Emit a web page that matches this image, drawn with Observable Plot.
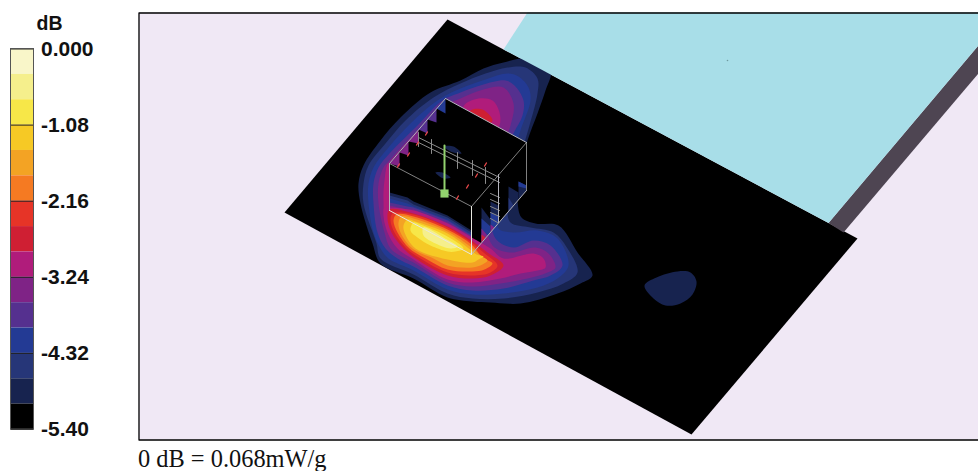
<!DOCTYPE html>
<html><head><meta charset="utf-8">
<script src="https://cdn.jsdelivr.net/npm/d3@7"></script>
<script src="https://cdn.jsdelivr.net/npm/@observablehq/plot@0.6"></script>
<style>
html,body{margin:0;padding:0;background:#fff;width:978px;height:471px;overflow:hidden}
#bar,#main{position:absolute;left:0;top:0}
#cap{position:absolute;left:138px;top:444.5px;font:24.4px/28px "Liberation Serif",serif;color:#111;white-space:nowrap}
</style></head><body>
<div id="main"></div><div id="bar"></div>
<div id="cap">0 dB = 0.068mW/g</div>
<script>
const colorbarEdges=[0,-0.36,-0.72,-1.08,-1.44,-1.80,-2.16,-2.52,-2.88,-3.24,-3.60,-3.96,-4.32,-4.68,-5.04,-5.40];
const bandColors=["#f9f6c9","#f5ef8c","#f7e748","#f6c925","#f3a324","#f57a22","#e63427","#cf1f33","#b01c7b","#7f2386","#55308f","#233a94","#263678","#17234f","#000000"];
const tickValues=[0,-1.08,-2.16,-3.24,-4.32,-5.40];
const tickLabels=["0.000","-1.08","-2.16","-3.24","-4.32","-5.40"];

const paperColor="#f0e8f5",waterColor="#a8dee8",strutColor="#4e4552";
const plate=[[447,19],[857,238],[691,434],[284,212]];
const water=[[527,12],[978,12],[978,45],[828,222.5],[503,48.9]];
const strut=[[978,45],[978,73],[843,232],[828,222.5]];

const contour13=[[503,62],[527,58],[550,70],[545,90],[537,113],[527,140],[518,175],[517,200],[521,217],[535,223],[558,225],[577,252],[592,275],[580,283],[557,293],[520,303],[490,302],[472,301],[447,297],[413,278],[380,263],[372,243],[360,203],[358,183],[363,165],[380,140],[400,117],[430,92],[460,80],[483,68]];
const contour12=[[507,67],[525,67],[537,78],[537,93],[529,125],[514,175],[507,207],[510,222],[530,227],[553,232],[567,248],[577,272],[563,283],[537,292],[503,298],[472,298],[447,293],[413,274],[380,258],[376,243],[363,203],[363,183],[368,165],[385,143],[405,120],[433,97],[460,83],[485,73]];
const contour11=[[507,73],[518,76],[528,87],[530,100],[520,130],[506,175],[499,210],[498,228],[513,232],[537,230],[557,238],[568,265],[557,278],[537,287],[503,293],[472,294],[447,289],[413,270],[388,258],[380,248],[373,232],[368,203],[368,183],[373,167],[388,147],[410,123],[437,100],[460,88],[485,79]];
const contour10=[[505,80],[514,85],[523,100],[522,115],[512,135],[497,175],[491,210],[495,238],[513,247],[533,240],[550,245],[562,265],[550,275],[533,280],[503,288],[472,290],[447,285],[413,266],[397,258],[385,248],[377,232],[373,203],[373,183],[378,167],[389,153],[417,125],[442,100],[460,92],[483,84]];
const contour9=[[503,87],[513,103],[510,125],[490,175],[485,210],[492,245],[510,252],[535,247],[548,253],[555,267],[547,272],[527,278],[500,283],[472,286],[447,282],[413,262],[405,258],[390,248],[384,232],[378,203],[378,183],[383,167],[389,160],[417,130],[445,105],[460,98],[483,89]];
const leftStrip8=[[388,163],[384,180],[383,200],[386,225],[395,225],[400,180]];
const topLobe8=[[463,106],[478,98],[492,100],[499,112],[499,125],[490,135],[470,125]];
const topLobe7=[[470,110],[482,109],[492,120],[484,125],[470,118]];

const faceTop13=[[389,192],[407,197],[413,201],[447,215],[471,230]];
const faceTop12=[[389,195],[407,200],[413,204],[447,217],[471,232]];
const faceTop11=[[389,198],[407,203],[413,206],[447,219],[471,234]];
const faceTop10=[[389,202],[407,206],[413,207],[447,220],[471,235]];
const faceTop9=[[389,205],[407,209],[413,209],[447,222],[471,236]];

const hot8=[[389,207],[413,210],[447,223],[471,237],[490,248],[503,258],[533,253],[543,258],[545,267],[537,270],[520,273],[500,278],[472,282],[447,279],[413,259],[397,248],[387,232],[383,215],[384,207]];
const hot7=[[389,209],[413,213],[447,226],[471,240],[487,252],[503,265],[490,275],[472,278],[447,275],[415,258],[403,248],[391,232],[387,218]];
const hot6=[[392,213],[413,214],[447,227],[471,242],[483,252],[497,265],[490,272],[472,275],[447,272],[420,258],[406,248],[394,232],[390,220]];
const hot5=[[396,214],[413,216],[447,229],[471,244],[482,257],[492,263],[484,269],[472,271],[447,269],[425,258],[409,248],[397,232],[393,220]];
const hot4=[[401,216],[413,218],[447,231],[471,247],[480,255],[487,260],[482,264],[472,267],[447,265],[433,258],[412,248],[400,232],[398,222]];
const hot3=[[407,219],[415,221],[447,233],[471,250],[476,254],[483,256],[478,259],[472,262],[447,259],[415,248],[404,232],[403,225]];
const hot2=[[413,222],[420,224],[447,236],[463,248],[455,251],[447,251],[430,245],[417,237],[410,230]];
const hot1=[[423,227],[443,237],[457,246],[450,248],[435,243],[423,235]];

const farBlob=[[644,285],[656,277],[677,271],[690,272],[696,281],[692,294],[680,303],[665,305],[653,298]];
const faceStreakA=[[435,172],[442,172],[450,177],[443,178]];
const faceStreakB=[[444,146],[453,146],[461,153],[450,151]];

const cubeA=[445,98],cubeB=[526,142],cubeC=[471,206],cubeD=[389,163],cubeE=[389,210],cubeF=[471,254],cubeH=[526,190],cubeP=[498,174],cubeQ=[498,222];
const cubeSilhouette=[cubeA,cubeB,cubeH,cubeF,cubeE,cubeD];

const teeth=[[[445,98],[445,113],[436,108]],[[436,108],[436,122],[427,119]],[[427,119],[427,133],[418,129]],[[418,129],[418,143],[408,141]],[[408,141],[408,155],[399,152]],[[399,152],[399,166],[389,163]]];
const toothBands=[11,10,10,9,9,9];

const spikes=[
 {x:[[481,207],[481,242],[490,232],[490,219]],b:13},
 {x:[[481,218],[481,242],[490,232],[490,226]],b:11},
 {x:[[481,228],[481,242],[487,235]],b:9},
 {x:[[481,234],[481,242],[485,237]],b:7},
 {x:[[490,201],[490,232],[498,222],[498,205]],b:13},
 {x:[[490,212],[490,232],[498,222],[498,216]],b:11},
 {x:[[490,224],[490,232],[494,227]],b:9},
 {x:[[508,186],[508,211],[518,199],[518,192]],b:13},
 {x:[[508,197],[508,211],[513,205]],b:12},
 {x:[[518,181],[526,185],[526,190],[518,199]],b:13},
 {x:[[518,181],[526,185],[526,188],[518,186]],b:11}
];

const gridLines=[[[418,137],[499,177]],[[418,142],[499,182]],[[418,132],[418,146]],[[431,139],[431,153]],[[444,145],[444,160]],[[457,152],[457,168]],[[472,160],[472,175]],[[485,167],[485,183]],
 [[490,193],[499,197]],[[490,199],[499,203]],[[490,206],[499,210]],[[490,212],[499,216]],[[490,218],[497,222]]];
const cubeEdgesBright=[[cubeE,cubeF],[cubeC,cubeF]];
const cubeEdgesMid=[[cubeA,cubeB],[cubeD,cubeE],[cubeA,cubeD],[cubeP,cubeQ],[cubeF,cubeH]];
const cubeEdgesDim=[[cubeD,cubeC],[cubeC,cubeB],[cubeB,cubeH]];
const redTicks=[[426,133],[417,143],[408,154],[398,165],[457,197],[467,186],[476,175],[485,164]];
const probeStem=[[444,145],[444,190]];
const probeBase=[[444,193]];
const specks=[[727,60]];
const panelBox=[[138.5,12.5],[979,12.5],[979,439.5],[138.5,439.5]];

const pts=a=>a.map(([x,y])=>({x,y}));
const curvy=(a,band)=>Plot.line(pts(a),{x:"x",y:"y",fill:bandColors[band],stroke:"none",curve:"catmull-rom-closed"});
const flat=(a,fill)=>Plot.line(pts(a),{x:"x",y:"y",fill,stroke:"none",curve:"linear-closed"});
const faceBand=(a,band)=>flat([...a,[471,255],[389,212]],bandColors[band]);
const seg=(s,stroke,w=1)=>Plot.line(pts(s),{x:"x",y:"y",stroke,strokeWidth:w});

const main=Plot.plot({
  width:978,height:471,margin:0,
  x:{domain:[0,978],range:[0,978],axis:null},
  y:{domain:[471,0],range:[471,0],axis:null},
  style:{background:"transparent"},
  marks:[
    flat([[138,12],[978,12],[978,439],[138,439]],paperColor),
    flat(plate,"#000000"),
    curvy(contour13,13),curvy(contour12,12),curvy(contour11,11),curvy(contour10,10),curvy(contour9,9),
    curvy(leftStrip8,8),curvy(topLobe8,8),curvy(topLobe7,7),
    curvy(farBlob,13),
    flat(strut,strutColor),flat(water,waterColor),
    Plot.dot(specks,{x:d=>d[0],y:d=>d[1],r:0.8,fill:"#6f9aa0",stroke:"none"}),
    flat(cubeSilhouette,"#000000"),
    faceBand(faceTop13,13),faceBand(faceTop12,12),faceBand(faceTop11,11),faceBand(faceTop10,10),faceBand(faceTop9,9),
    curvy(hot8,8),curvy(hot7,7),curvy(hot6,6),curvy(hot5,5),curvy(hot4,4),curvy(hot3,3),curvy(hot2,2),curvy(hot1,1),
    ...teeth.map((t,i)=>flat(t,bandColors[toothBands[i]])),
    ...spikes.map(s=>flat(s.x,bandColors[s.b])),
    curvy(faceStreakA,13),curvy(faceStreakB,13),
    ...gridLines.map(s=>seg(s,"#8c8c8c",1)),
    ...cubeEdgesDim.map(s=>seg(s,"#808080",1)),
    ...cubeEdgesMid.map(s=>seg(s,"#b4b4bc",1)),
    ...cubeEdgesBright.map(s=>seg(s,"#e8e8e0",1)),
    ...redTicks.map(([x,y])=>seg([[x-1,y+1.6],[x+1,y-1.6]],"#e8484a",1.2)),
    seg(probeStem,"#92d26e",2),
    Plot.dot(probeBase,{x:d=>d[0],y:d=>d[1],symbol:"square",r:4.6,fill:"#92d26e",stroke:"none"}),
    Plot.line(pts(panelBox),{x:"x",y:"y",stroke:"#000",strokeWidth:1.3,curve:"linear-closed"})
  ]
});
document.getElementById("main").append(main);

const bands=bandColors.map((c,i)=>({y1:colorbarEdges[i],y2:colorbarEdges[i+1],c}));
const bar=Plot.plot({
  width:138,height:471,margin:0,
  x:{domain:[0,1],range:[10.5,33.5],axis:null},
  y:{domain:[-5.4,0],range:[429,48.5],axis:null},
  style:{background:"transparent",overflow:"visible"},
  marks:[
    Plot.rect(bands,{x1:0,x2:1,y1:"y1",y2:"y2",fill:"c",stroke:"none"}),
    Plot.ruleY(tickValues,{x1:0,x2:1,stroke:"#222",strokeWidth:1}),
    Plot.rect([{}],{x1:0,x2:1,y1:-5.4,y2:0,fill:"none",stroke:"#555",strokeWidth:1}),
    Plot.text(tickLabels,{x:()=>1,y:(d,i)=>tickValues[i],text:d=>d,dx:7,textAnchor:"start",fontSize:21,fontWeight:"bold",fontFamily:"Liberation Sans, sans-serif",fill:"#111"}),
    Plot.text(["dB"],{x:()=>1,y:()=>0,dx:2.5,dy:-25,textAnchor:"start",fontSize:19.5,fontWeight:"bold",fontFamily:"Liberation Sans, sans-serif",fill:"#111"})
  ]
});
document.getElementById("bar").append(bar);
</script>
</body></html>
